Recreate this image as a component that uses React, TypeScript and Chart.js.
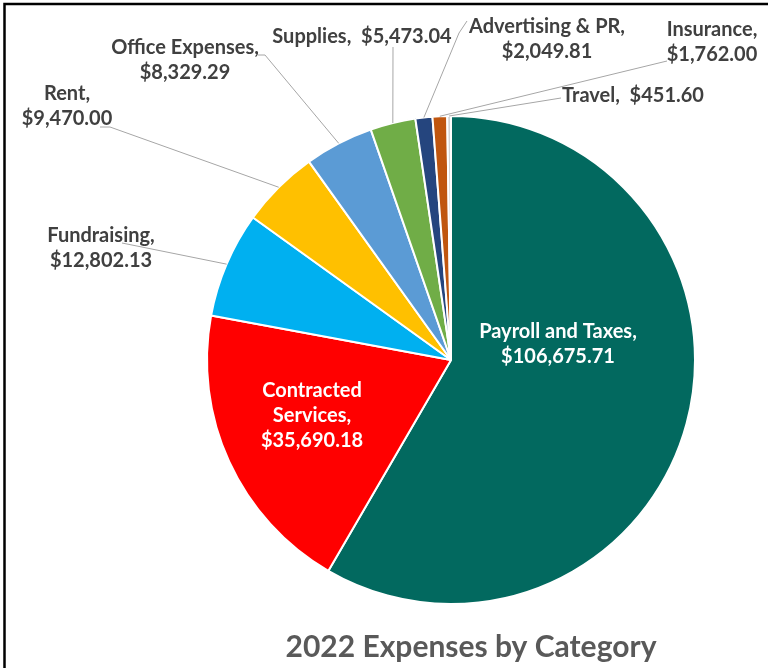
import React, { useEffect, useRef } from "react";
import { Chart, registerables } from "chart.js";

Chart.register(...registerables);

const categories = [
  "Payroll and Taxes",
  "Contracted Services",
  "Fundraising",
  "Rent",
  "Office Expenses",
  "Supplies",
  "Advertising & PR",
  "Insurance",
  "Travel",
];

const expenses = [106675.71, 35690.18, 12802.13, 9470.0, 8329.29, 5473.04, 2049.81, 1762.0, 451.6];

const sliceColors = [
  "#02695F",
  "#FF0000",
  "#00B0F0",
  "#FFC000",
  "#5B9BD5",
  "#70AD47",
  "#25457E",
  "#C0560F",
  "#D4D4D4",
];

const titleText = "2022 Expenses by Category";

const fmt = (v: number) =>
  "$" + v.toLocaleString("en-US", { minimumFractionDigits: 2, maximumFractionDigits: 2 });

// label layout: how each label's lines are split, its centre, and leader-line start points
const labelLines: string[][] = categories.map((c, i) => {
  const v = fmt(expenses[i]);
  if (i === 1) return ["Contracted", "Services,", v];
  if (i === 5 || i === 8) return [c + ",  " + v];
  return [c + ",", v];
});

const labelLayout: { x: number; y: number; inside?: boolean; leader?: number[][] }[] = [
  { x: 558, y: 332, inside: true },
  { x: 312, y: 391, inside: true },
  { x: 101, y: 236, leader: [[122, 243]] },
  { x: 67, y: 94, leader: [[100, 127], [110, 127]] },
  { x: 185, y: 48, leader: [[258, 55], [265, 55]] },
  { x: 362, y: 37, leader: [[393, 47]] },
  { x: 547, y: 27, leader: [[467, 21], [459, 33]] },
  { x: 712, y: 30, leader: [[667, 61]] },
  { x: 633, y: 96, leader: [[561, 98]] },
];

const LABEL_FONT = "bold 20px Lato, 'Open Sans', sans-serif";
const TITLE_FONT = "bold 30px Lato, 'Open Sans', sans-serif";

const decorPlugin = {
  id: "decor",
  afterDraw(chart: any) {
    const ctx = chart.ctx as CanvasRenderingContext2D;
    const meta = chart.getDatasetMeta(0);
    ctx.save();
    // frame
    ctx.strokeStyle = "#000";
    ctx.lineWidth = 2.5;
    ctx.strokeRect(4.5, 4, 800, 800);

    // leader lines
    ctx.strokeStyle = "#A6A6A6";
    ctx.lineWidth = 1;
    labelLayout.forEach((lay, i) => {
      if (!lay.leader) return;
      const arc = meta.data[i];
      const p = arc.getProps(["x", "y", "startAngle", "endAngle", "outerRadius"], true);
      const mid = (p.startAngle + p.endAngle) / 2;
      const ex = p.x + Math.cos(mid) * p.outerRadius;
      const ey = p.y + Math.sin(mid) * p.outerRadius;
      ctx.beginPath();
      lay.leader.forEach((pt, k) => (k === 0 ? ctx.moveTo(pt[0], pt[1]) : ctx.lineTo(pt[0], pt[1])));
      ctx.lineTo(ex, ey);
      ctx.stroke();
    });

    // labels
    ctx.font = LABEL_FONT;
    ctx.textAlign = "center";
    ctx.textBaseline = "middle";
    labelLayout.forEach((lay, i) => {
      ctx.fillStyle = lay.inside ? "#FFFFFF" : "#404040";
      labelLines[i].forEach((line, k) => {
        ctx.fillText(line, lay.x, lay.y + k * 25);
      });
    });

    // title
    ctx.font = TITLE_FONT;
    ctx.fillStyle = "#595959";
    ctx.textBaseline = "alphabetic";
    ctx.fillText(titleText, 471, 657);
    ctx.restore();
  },
};

export default function App() {
  const ref = useRef<HTMLCanvasElement | null>(null);
  useEffect(() => {
    if (!ref.current) return;
    const chart = new Chart(ref.current, {
      type: "pie",
      data: {
        labels: categories,
        datasets: [
          {
            data: expenses,
            backgroundColor: sliceColors,
            borderColor: "#FFFFFF",
            borderWidth: 2,
          },
        ],
      },
      options: {
        responsive: false,
        animation: false,
        devicePixelRatio: 1,
        layout: { padding: { left: 206, right: 72, top: 115, bottom: 63 } },
        plugins: {
          legend: { display: false },
          tooltip: { enabled: false },
          title: { display: false },
        },
      },
      plugins: [decorPlugin],
    });
    return () => chart.destroy();
  }, []);
  return (
    <div style={{ position: "fixed", left: 0, top: 0, width: 768, height: 668, background: "#fff" }}>
      <canvas ref={ref} width={768} height={668} />
    </div>
  );
}
